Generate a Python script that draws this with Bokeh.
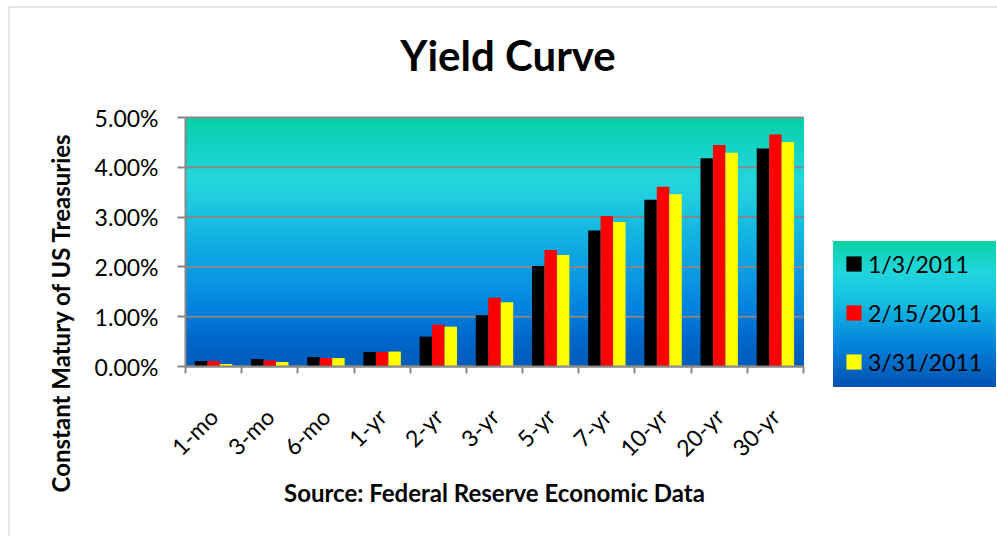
import math
from bokeh.plotting import figure
from bokeh.models import (Range1d, FixedTicker, PrintfTickFormatter, Label,
                          Legend, LegendItem, BoxAnnotation)
from bokeh.embed import file_html
from bokeh.resources import INLINE

# ---------------- data ----------------
maturities = ["1-mo", "3-mo", "6-mo", "1-yr", "2-yr", "3-yr", "5-yr", "7-yr", "10-yr", "20-yr", "30-yr"]
dates = ["1/3/2011", "2/15/2011", "3/31/2011"]
yield_2011_01_03 = [0.11, 0.15, 0.19, 0.29, 0.60, 1.03, 2.02, 2.73, 3.35, 4.18, 4.38]
yield_2011_02_15 = [0.11, 0.12, 0.17, 0.29, 0.84, 1.38, 2.34, 3.02, 3.61, 4.45, 4.66]
yield_2011_03_31 = [0.05, 0.09, 0.17, 0.30, 0.80, 1.29, 2.24, 2.90, 3.46, 4.29, 4.51]
y_ticks = [0, 1, 2, 3, 4, 5]

series = [yield_2011_01_03, yield_2011_02_15, yield_2011_03_31]
colors = ["#000000", "#FF0000", "#FFFF00"]

# ---------------- layout (pixels) ----------------
W, H = 997, 536
FL, FR, FT, FB = 185, 803, 117, 366      # plot area
LL, LR, LT, LB = 833, 995, 241, 386      # legend box
N = len(maturities)
YMAX = 5

def dx(px):
    return (px - FL) * N / (FR - FL)

def dy(py):
    return (FB - py) * YMAX / (FB - FT)

def lerp(stops, t):
    for (t0, c0), (t1, c1) in zip(stops[:-1], stops[1:]):
        if t0 <= t <= t1:
            f = (t - t0) / (t1 - t0) if t1 > t0 else 0
            c = [round(a + (b - a) * f) for a, b in zip(c0, c1)]
            return "#%02x%02x%02x" % tuple(c)
    c = stops[-1][1]
    return "#%02x%02x%02x" % tuple(c)

FONT = "Lato"
GREY = "#878787"

p = figure(frame_width=W, frame_height=H,
           min_border_left=0, min_border_right=0, min_border_top=0, min_border_bottom=0,
           x_range=Range1d(dx(0), dx(W)), y_range=Range1d(dy(H), dy(0)),
           output_backend="svg", toolbar_location=None,
           background_fill_color="white", border_fill_color="white")
p.outline_line_color = None
p.xgrid.visible = False
p.ygrid.visible = False

# outer chart border
p.add_layout(BoxAnnotation(left=dx(8.5), right=dx(1200), top=dy(6.5), bottom=dy(900),
                           fill_alpha=0, line_color="#8a8a8a", line_width=1.5, level="image"))

# plot-area gradient
plot_stops = [(0.0, (0, 92, 184)), (0.12, (0, 104, 202)), (0.22, (2, 128, 222)),
              (0.4, (12, 158, 226)), (0.6, (24, 192, 224)), (0.74, (34, 214, 220)),
              (0.84, (26, 212, 204)), (1.0, (8, 208, 168))]
NS = 125
gcols = [lerp(plot_stops, (i + 0.5) / NS) for i in range(NS)]
p.quad(left=0, right=N, bottom=[YMAX * i / NS for i in range(NS)],
       top=[YMAX * (i + 1) / NS for i in range(NS)],
       fill_color=gcols, line_color=gcols, line_width=1, level="image")

# legend gradient box
leg_stops = [(0.0, (0, 82, 176)), (0.3, (4, 132, 222)), (0.6, (20, 192, 224)),
             (0.8, (34, 214, 220)), (1.0, (8, 208, 168))]
NL = 60
lcols = [lerp(leg_stops, (i + 0.5) / NL) for i in range(NL)]
p.quad(left=dx(LL), right=dx(LR),
       bottom=[dy(LB - (LB - LT) * i / NL) for i in range(NL)],
       top=[dy(LB - (LB - LT) * (i + 1) / NL) for i in range(NL)],
       fill_color=lcols, line_color=lcols, line_width=1, level="image")

# horizontal grid lines
p.segment(x0=0, x1=N, y0=y_ticks, y1=y_ticks, line_color=GREY, line_width=2, level="underlay")

# bars
bw = 0.222
offsets = [-bw, 0, bw]
renderers = []
for vals, col, off in zip(series, colors, offsets):
    xs = [i + 0.5 + off for i in range(N)]
    renderers.append(p.vbar(x=xs, top=vals, bottom=0, width=bw, fill_color=col, line_color=None))

# axes (fixed at the data origin)
p.yaxis.fixed_location = 0
p.yaxis.bounds = (0, YMAX)
p.yaxis.ticker = FixedTicker(ticks=y_ticks)
p.yaxis.formatter = PrintfTickFormatter(format="%.2f%%")
p.yaxis.major_tick_out = 8
p.yaxis.major_tick_in = 0
p.yaxis.minor_tick_out = 0
p.yaxis.minor_tick_in = 0
p.yaxis.axis_line_color = GREY
p.yaxis.axis_line_width = 2
p.yaxis.major_tick_line_color = GREY
p.yaxis.major_tick_line_width = 2
p.yaxis.major_label_text_font = FONT
p.yaxis.major_label_text_font_size = "23px"
p.yaxis.major_label_text_color = "#000000"
p.yaxis.major_label_standoff = 19

centers = [i + 0.5 for i in range(N)]
bounds = [float(i) for i in range(N + 1)]
p.xaxis.fixed_location = 0
p.xaxis.bounds = (0, N)
p.xaxis.ticker = FixedTicker(ticks=centers, minor_ticks=bounds)
p.xaxis.major_label_overrides = {c: m for c, m in zip(centers, maturities)}
p.xaxis.major_tick_out = 0
p.xaxis.major_tick_in = 0
p.xaxis.minor_tick_out = 7
p.xaxis.minor_tick_in = 0
p.xaxis.minor_tick_line_color = GREY
p.xaxis.minor_tick_line_width = 2
p.xaxis.axis_line_color = GREY
p.xaxis.axis_line_width = 2
p.xaxis.major_label_orientation = math.pi / 4
p.xaxis.major_label_text_font = FONT
p.xaxis.major_label_text_font_size = "23px"
p.xaxis.major_label_text_color = "#000000"
p.xaxis.major_label_standoff = 39

# legend
legend = Legend(items=[LegendItem(label=d, renderers=[r]) for d, r in zip(dates, renderers)],
                location=(844, H - 375.5),
                background_fill_alpha=0, border_line_color=None,
                glyph_width=19, glyph_height=19, label_standoff=5, label_height=19,
                label_text_font=FONT, label_text_font_size="23px",
                label_text_color="#000000", padding=5, spacing=21, margin=0)
p.add_layout(legend, "center")

# texts
p.add_layout(Label(x=dx(507.5), y=dy(54.5), text="Yield Curve", text_font=FONT,
                   text_font_size="42px", text_font_style="bold", text_align="center",
                   text_baseline="middle", text_color="#000000"))
p.add_layout(Label(x=dx(60), y=dy(312), text="Constant Matury of US Treasuries", text_font=FONT,
                   text_font_size="24px", text_font_style="bold", text_align="center",
                   text_baseline="middle", angle=math.pi / 2, text_color="#000000"))
p.add_layout(Label(x=dx(494), y=dy(492), text="Source: Federal Reserve Economic Data",
                   text_font=FONT, text_font_size="24px", text_font_style="bold",
                   text_align="center", text_baseline="middle", text_color="#000000"))

open("out.html", "w").write(file_html(p, INLINE))
